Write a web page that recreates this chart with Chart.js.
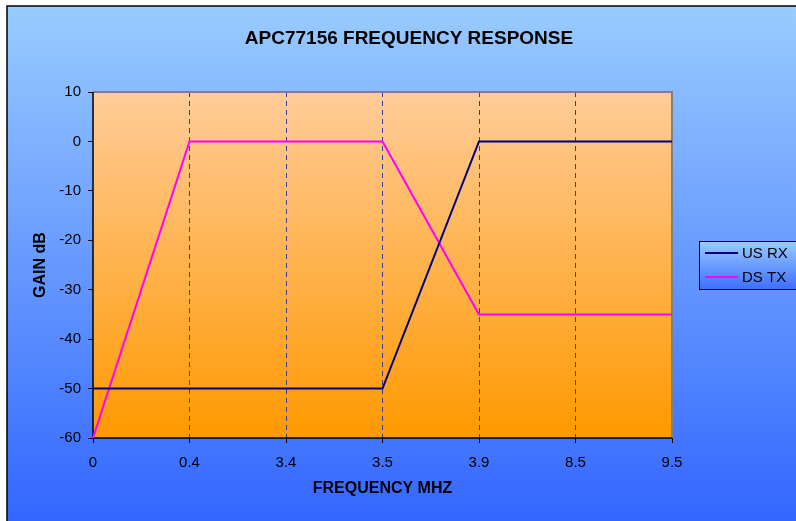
<!DOCTYPE html>
<html>
<head>
<meta charset="utf-8">
<script src="https://cdn.jsdelivr.net/npm/chart.js@4/dist/chart.umd.min.js"></script>
<style>
html,body{margin:0;padding:0;background:#fff;}
#wrap{width:796px;height:521px;position:relative;}
</style>
</head>
<body>
<div id="wrap"><canvas id="c" width="796" height="521"></canvas></div>
<script>
const chartTitle = "APC77156 FREQUENCY RESPONSE";
const xTitle = "FREQUENCY MHZ";
const yTitle = "GAIN dB";
const frequencies = ["0", "0.4", "3.4", "3.5", "3.9", "8.5", "9.5"];
const usRx = [-50, -50, -50, -50, 0, 0, 0];
const dsTx = [-60, 0, 0, 0, -35, -35, -35];
const yMin = -60, yMax = 10, yStep = 10;

const FONT = "'Liberation Sans', Arial, sans-serif";

const bgPlugin = {
  id: 'bg',
  beforeDraw(chart) {
    const ctx = chart.ctx;
    const W = chart.width, H = chart.height;
    ctx.save();
    ctx.fillStyle = '#ffffff';
    ctx.fillRect(0, 0, W, H);
    const g = ctx.createLinearGradient(0, 6, 0, H);
    g.addColorStop(0, '#99CCFF');
    g.addColorStop(1, '#3366FF');
    ctx.fillStyle = g;
    ctx.fillRect(7, 6, W, H);
    ctx.strokeStyle = '#000000';
    ctx.lineWidth = 1.5;
    ctx.beginPath();
    ctx.moveTo(7, H + 5);
    ctx.lineTo(7, 6);
    ctx.lineTo(W + 5, 6);
    ctx.stroke();
    const a = chart.chartArea;
    const pg = ctx.createLinearGradient(0, a.top, 0, a.bottom);
    pg.addColorStop(0, '#FFCC99');
    pg.addColorStop(1, '#FF9900');
    ctx.fillStyle = pg;
    ctx.fillRect(a.left, a.top, a.right - a.left, a.bottom - a.top);
    ctx.fillStyle = '#000';
    ctx.font = 'bold 19px ' + FONT;
    ctx.textAlign = 'center';
    ctx.textBaseline = 'middle';
    ctx.fillText(chartTitle, 409, 39);
    ctx.restore();
  },
  beforeDatasetsDraw(chart) {
    const ctx = chart.ctx;
    const a = chart.chartArea;
    ctx.save();
    ctx.strokeStyle = '#808080';
    ctx.lineWidth = 2;
    ctx.beginPath();
    ctx.moveTo(a.left, a.top);
    ctx.lineTo(a.right, a.top);
    ctx.lineTo(a.right, a.bottom);
    ctx.stroke();
    ctx.strokeStyle = '#000';
    ctx.lineWidth = 1.5;
    ctx.beginPath();
    ctx.moveTo(a.left, a.top);
    ctx.lineTo(a.left, a.bottom);
    ctx.lineTo(a.right, a.bottom);
    ctx.stroke();
    ctx.restore();
  },
  afterDraw(chart) {
    const ctx = chart.ctx;
    const W = chart.width;
    ctx.save();
    const lx = 699, ly = 241, lh = 48;
    const g = ctx.createLinearGradient(0, ly, 0, ly + lh);
    g.addColorStop(0, '#99CCFF');
    g.addColorStop(1, '#3F6FFF');
    ctx.fillStyle = g;
    ctx.fillRect(lx, ly, W - lx + 5, lh);
    ctx.strokeStyle = '#000';
    ctx.lineWidth = 1;
    ctx.strokeRect(lx + 0.5, ly + 0.5, W - lx + 5, lh);
    ctx.font = '15px ' + FONT;
    ctx.textAlign = 'left';
    ctx.textBaseline = 'middle';
    chart.data.datasets.forEach((ds, i) => {
      const y = ly + 12 + i * 24;
      ctx.strokeStyle = ds.borderColor;
      ctx.lineWidth = ds.borderWidth;
      ctx.beginPath();
      ctx.moveTo(705, y);
      ctx.lineTo(738, y);
      ctx.stroke();
      ctx.fillStyle = '#000';
      ctx.fillText(ds.label, 742, y + 1);
    });
    ctx.restore();
  }
};

new Chart(document.getElementById('c'), {
  type: 'line',
  data: {
    labels: frequencies,
    datasets: [
      { label: 'US RX', data: usRx, borderColor: '#000080', borderWidth: 2, pointRadius: 0, tension: 0, fill: false },
      { label: 'DS TX', data: dsTx, borderColor: '#FF00FF', borderWidth: 2, pointRadius: 0, tension: 0, fill: false }
    ]
  },
  options: {
    responsive: false,
    animation: false,
    layout: { padding: { top: 92, right: 124, left: 0, bottom: 0 } },
    plugins: { legend: { display: false }, title: { display: false }, tooltip: { enabled: false } },
    scales: {
      x: {
        type: 'category',
        offset: false,
        afterFit(s) { s.height = 83; },
        grid: {
          offset: false,
          drawOnChartArea: true,
          color: (c) => (c.index === 0 || c.index === frequencies.length - 1) ? 'rgba(0,0,0,0)' : '#3a3aa8',
          lineWidth: 1,
          tickLength: 5,
          tickColor: '#000',
          tickWidth: 1,
          tickBorderDash: []
        },
        border: { display: false, dash: [5, 4] },
        ticks: { color: '#000', font: { family: FONT, size: 15 }, padding: 11, maxRotation: 0, autoSkip: false },
        title: { display: true, text: xTitle, color: '#000', font: { family: FONT, size: 16, weight: 'bold' }, padding: { top: 0, bottom: 23 } }
      },
      y: {
        min: yMin, max: yMax,
        afterFit(s) { s.width = 93; },
        grid: { drawOnChartArea: false, tickLength: 5, tickColor: '#000', tickWidth: 1 },
        border: { display: false },
        ticks: { stepSize: yStep, color: '#000', font: { family: FONT, size: 15 }, padding: 7 },
        title: { display: true, text: yTitle, color: '#000', font: { family: FONT, size: 16, weight: 'bold' }, padding: { top: 31, bottom: 0 } }
      }
    }
  },
  plugins: [bgPlugin]
});
</script>
</body>
</html>
